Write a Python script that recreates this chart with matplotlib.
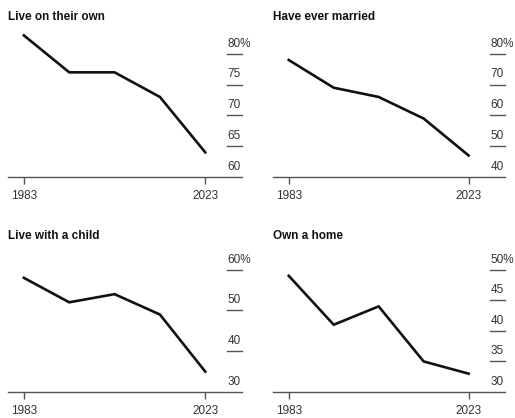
import matplotlib.pyplot as plt

plt.rcParams['font.family'] = ['Liberation Sans', 'DejaVu Sans']

# survey years and shares (%) for each panel
years = [1983, 1993, 2003, 2013, 2023]
live_alone = [83, 77, 77, 73, 64]
ever_married = [78, 69, 66, 59, 47]
with_child = [58, 52, 54, 49, 35]
own_home = [49, 41, 44, 35, 33]

titles = ['Live on their own', 'Have ever married', 'Live with a child', 'Own a home']
series = [live_alone, ever_married, with_child, own_home]
yticks = [[60, 65, 70, 75, 80], [40, 50, 60, 70, 80], [30, 40, 50, 60], [30, 35, 40, 45, 50]]
xticks = [1983, 2023]

W, H = 515, 418
fig = plt.figure(figsize=(W / 100, H / 100), dpi=100)

# panel boxes in pixels: left, right, top, bottom
boxes = [(8, 242, 28, 177), (273, 505, 28, 177), (8, 242, 244, 392), (273, 505, 244, 392)]
title_y = [17, 17, 236, 236]
grey = '#555555'

for i in range(4):
    l, r, t, b = boxes[i]
    ax = fig.add_axes([l / W, 1 - b / H, (r - l) / W, (b - t) / H])
    ax.plot(years, series[i], color='#111111', lw=1.9, solid_joinstyle='miter')

    lo, hi = yticks[i][0], yticks[i][-1]
    ax.set_ylim(lo, hi + (hi - lo) * 0.21)
    ax.set_xlim(1979.5, 2031.1)

    for s in ['top', 'right', 'left']:
        ax.spines[s].set_visible(False)
    ax.spines['bottom'].set_color(grey)
    ax.spines['bottom'].set_linewidth(1.0)
    ax.set_yticks([])
    ax.set_xticks(xticks)
    ax.set_xticklabels([str(x) for x in xticks])
    ax.tick_params(axis='x', length=5, width=1, color=grey, labelsize=8.5,
                   labelcolor='#333333', pad=4)

    # right-hand value labels sitting on short rules
    ytr = ax.get_yaxis_transform()
    for j, v in enumerate(yticks[i]):
        lab = f'{v}%' if j == len(yticks[i]) - 1 else str(v)
        if j > 0:
            ax.plot([0.936, 1.0], [v, v], color=grey, lw=1.0, transform=ytr, clip_on=False)
        ax.annotate(lab, (0.938, v), xycoords=ytr, xytext=(0, 3), textcoords='offset points',
                    ha='left', va='bottom', fontsize=8.5, color='#333333')

    fig.text(l / W, 1 - title_y[i] / H, titles[i], fontsize=8.5, fontweight='bold',
             color='#111111', ha='left', va='center')

plt.savefig('out.png', dpi=100)
